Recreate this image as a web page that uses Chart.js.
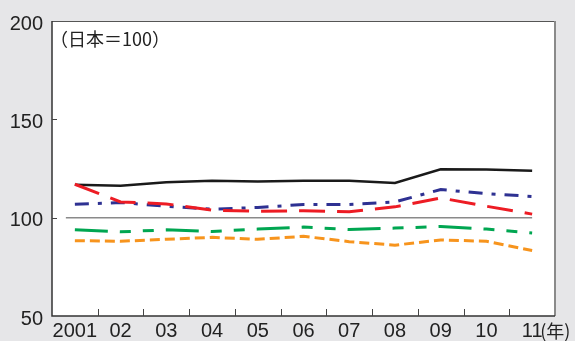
<!DOCTYPE html>
<html>
<head>
<meta charset="utf-8">
<script src="https://cdn.jsdelivr.net/npm/chart.js@4/dist/chart.umd.min.js"></script>
<style>
  html, body { margin: 0; padding: 0; background: #e6e6e8; }
  #c { display: block; }
</style>
</head>
<body>
<canvas id="c" width="575" height="341"></canvas>
<script>
// Index values, Japan = 100
const years = ['2001', '02', '03', '04', '05', '06', '07', '08', '09', '10', '11'];
const blackSolid  = [116.8, 116.2, 118.0, 118.8, 118.4, 118.8, 118.8, 117.6, 124.6, 124.5, 123.8];
const redDash     = [117.0, 108.0, 107.0, 103.8, 103.3, 103.5, 103.0, 105.5, 110.0, 105.8, 101.8];
const blueDashDot = [106.8, 107.7, 105.8, 104.3, 105.2, 106.7, 106.7, 108.0, 114.3, 112.2, 110.8];
const greenDash   = [93.8, 92.8, 93.8, 93.0, 94.2, 95.2, 94.0, 94.7, 95.5, 94.2, 92.2];
const orangeDash  = [88.3, 88.0, 89.0, 90.0, 89.0, 90.5, 87.8, 86.0, 88.7, 88.0, 83.3];
const yTicks = [50, 100, 150, 200];
const baseline = 100;
const noteText = '（日本＝100）';
const unitText = '(年)';

const FONT = '"Liberation Sans", Arial, sans-serif';
const JP_FONT = '"Noto Sans CJK JP", "Noto Sans", sans-serif';

// Background, frame, inner ticks, reference line and captions
const decor = {
  id: 'decor',
  beforeDraw(chart) {
    const { ctx, chartArea: a } = chart;
    ctx.save();
    ctx.fillStyle = '#e6e6e8';
    ctx.fillRect(0, 0, chart.width, chart.height);
    ctx.fillStyle = '#ffffff';
    ctx.fillRect(a.left, a.top, a.right - a.left, a.bottom - a.top);
    ctx.restore();
  },
  beforeDatasetsDraw(chart) {
    const { ctx, scales: { x, y } } = chart;
    ctx.save();
    // reference line at 100
    const y100 = y.getPixelForValue(baseline);
    ctx.strokeStyle = '#8a8a8a';
    ctx.lineWidth = 1.5;
    ctx.beginPath();
    ctx.moveTo(x.getPixelForValue(0) - 9, y100);
    ctx.lineTo(x.getPixelForValue(years.length - 1), y100);
    ctx.stroke();
    ctx.restore();
  },
  afterDraw(chart) {
    const { ctx, chartArea: a, scales: { x, y } } = chart;
    ctx.save();
    // top and right frame
    ctx.strokeStyle = '#555';
    ctx.lineWidth = 1.2;
    ctx.beginPath();
    ctx.moveTo(a.left, a.top + 0.5);
    ctx.lineTo(a.right, a.top + 0.5);
    ctx.stroke();
    ctx.strokeStyle = '#8a8a8a';
    ctx.lineWidth = 2;
    ctx.beginPath();
    ctx.moveTo(a.right, a.top);
    ctx.lineTo(a.right, a.bottom);
    ctx.stroke();
    // left and bottom axes
    ctx.strokeStyle = '#333';
    ctx.lineWidth = 1.5;
    ctx.beginPath();
    ctx.moveTo(a.left, a.top);
    ctx.lineTo(a.left, a.bottom);
    ctx.lineTo(a.right, a.bottom);
    ctx.stroke();
    // inner ticks on the y axis
    ctx.lineWidth = 1;
    ctx.strokeStyle = '#444';
    yTicks.slice(1, -1).forEach(v => {
      const py = Math.round(y.getPixelForValue(v)) + 0.5;
      ctx.beginPath();
      ctx.moveTo(a.left, py);
      ctx.lineTo(a.left + 5, py);
      ctx.stroke();
    });
    // inner ticks between categories on the x axis
    for (let i = 0; i < years.length - 1; i++) {
      const px = Math.round((x.getPixelForValue(i) + x.getPixelForValue(i + 1)) / 2) + 0.5;
      ctx.beginPath();
      ctx.moveTo(px, a.bottom);
      ctx.lineTo(px, a.bottom - 7);
      ctx.stroke();
    }
    // captions
    ctx.fillStyle = '#222';
    ctx.font = '18px ' + JP_FONT;
    ctx.textBaseline = 'middle';
    ctx.textAlign = 'left';
    ctx.fillText(noteText, a.left - 2, a.top + 18);
    const lastX = x.getPixelForValue(years.length - 1);
    ctx.fillText(unitText, lastX + 8, a.bottom + 15);
    ctx.restore();
  }
};

const lineDs = (label, data, color, dash, width) => ({
  label, data,
  borderColor: color,
  borderWidth: width,
  borderDash: dash,
  borderCapStyle: 'butt',
  pointRadius: 0,
  tension: 0,
  fill: false
});

new Chart(document.getElementById('c'), {
  type: 'line',
  data: {
    labels: years,
    datasets: [
      lineDs('orange', orangeDash, '#f7941d', [10, 5], 3),
      lineDs('green', greenDash, '#00a651', [33, 12, 11, 12, 11, 12], 3),
      lineDs('red', redDash, '#ed1c24', [26, 12], 3),
      lineDs('blue', blueDashDot, '#2e3192', [14, 9, 4, 9], 3),
      lineDs('black', blackSolid, '#1a1a1a', [], 2.5)
    ]
  },
  options: {
    responsive: false,
    animation: false,
    devicePixelRatio: 1,
    layout: { padding: { top: 16, right: 20, left: 0, bottom: 0 } },
    plugins: { legend: { display: false }, tooltip: { enabled: false } },
    scales: {
      x: {
        type: 'category',
        offset: true,
        grid: { display: false, drawTicks: false },
        border: { display: false },
        ticks: { color: '#222', font: { family: FONT, size: 20 }, padding: 3, maxRotation: 0, autoSkip: false },
        afterFit(s) { s.height = 25; }
      },
      y: {
        min: 50, max: 200,
        afterBuildTicks(s) { s.ticks = yTicks.map(v => ({ value: v })); },
        grid: { display: false, drawTicks: false },
        border: { display: false },
        ticks: { color: '#222', font: { family: FONT, size: 20 }, padding: 9, labelOffset: 3 },
        afterFit(s) { s.width = 52; }
      }
    }
  },
  plugins: [decor]
});
</script>
</body>
</html>
